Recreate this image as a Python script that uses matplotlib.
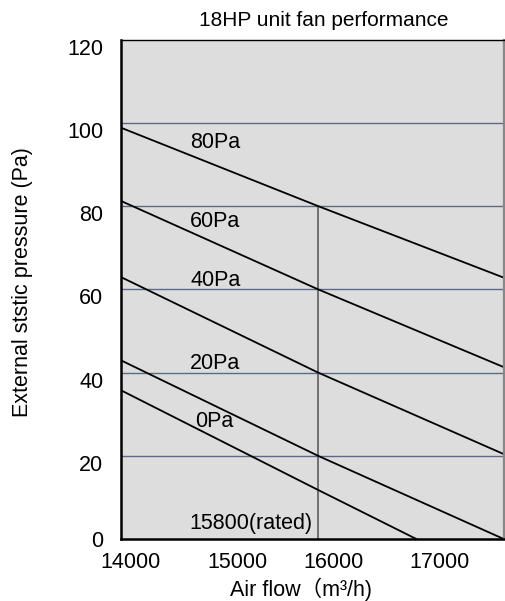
import matplotlib
matplotlib.use('Agg')
import matplotlib.pyplot as plt
import matplotlib.transforms as mtransforms

plt.rcParams['font.family'] = ['Liberation Sans', 'Noto Sans CJK SC', 'DejaVu Sans']

# fan curves: air flow (m3/h) vs external static pressure (Pa)
curve_x = [14000, 15800, 17500]
p80 = [98.8, 80, 62.8]
p60 = [81.2, 60, 41.3]
p40 = [62.9, 40, 20.4]
p20 = [42.9, 20, 0]
p0_x = [14000, 15800, 16700]
p0 = [35.7, 11.8, 0]

curve_names = ['80Pa', '60Pa', '40Pa', '20Pa', '0Pa']
name_x = [14630, 14630, 14630, 14630, 14675]
name_y = [95.2, 76.2, 62.1, 42.1, 28.2]

rated_flow = 15800
rated_top = 80
yticks = [0, 20, 40, 60, 80, 100, 120]
xticks = [14000, 15000, 16000, 17000]

fig = plt.figure(figsize=(5.06, 6.01), dpi=100)
ax = fig.add_axes([0.240, 0.103, 0.756, 0.831])
ax.set_facecolor('#dddddd')
ax.set_xlim(14000, 17500)
ax.set_ylim(0, 120)

for y in yticks[1:-1]:
    ax.axhline(y, color='#5c6b82', lw=1.0, zorder=1)
ax.plot([rated_flow, rated_flow], [0, rated_top], color='#666666', lw=1.3, zorder=1)

for ys in [p80, p60, p40, p20]:
    ax.plot(curve_x, ys, color='black', lw=1.3, zorder=2)
ax.plot(p0_x, p0, color='black', lw=1.3, zorder=2)

for name, tx, ty in zip(curve_names, name_x, name_y):
    ax.text(tx, ty, name, fontsize=15.5, va='center', ha='left', zorder=3)
ax.text(14620, 3.7, '15800(rated)', fontsize=15.5, va='center', ha='left', zorder=3)

ax.set_xticks(xticks)
ax.set_yticks(yticks)
ax.tick_params(length=0, labelsize=15.5)
ax.tick_params(axis='y', pad=13)
ax.tick_params(axis='x', pad=9)

# the original labels sit a little off their grid positions
fig.canvas.draw()
x_shift = [9, 7, -7, -10]
for lab, dx in zip(ax.get_xticklabels(), x_shift):
    lab.set_transform(lab.get_transform() + mtransforms.ScaledTranslation(dx / 100, 0, fig.dpi_scale_trans))
for lab, v in zip(ax.get_yticklabels(), yticks):
    if v > 0:
        lab.set_transform(lab.get_transform() + mtransforms.ScaledTranslation(0, -7 / 100, fig.dpi_scale_trans))

for side in ['left', 'bottom']:
    ax.spines[side].set_linewidth(1.8)
    ax.spines[side].set_color('black')
ax.spines['top'].set_linewidth(1.0)
ax.spines['right'].set_linewidth(1.6)
ax.spines['right'].set_color('#888888')

ax.set_xlabel('Air flow（m³/h)', fontsize=15.5)
ax.xaxis.set_label_coords(0.469, -0.078)
ax.set_ylabel('External ststic pressure (Pa)', fontsize=15.5)
ax.yaxis.set_label_coords(-0.232, 0.515)
fig.text(324 / 506, 1 - 20 / 601, '18HP unit fan performance', fontsize=15, ha='center', va='center')

plt.savefig('out.png', dpi=100)
